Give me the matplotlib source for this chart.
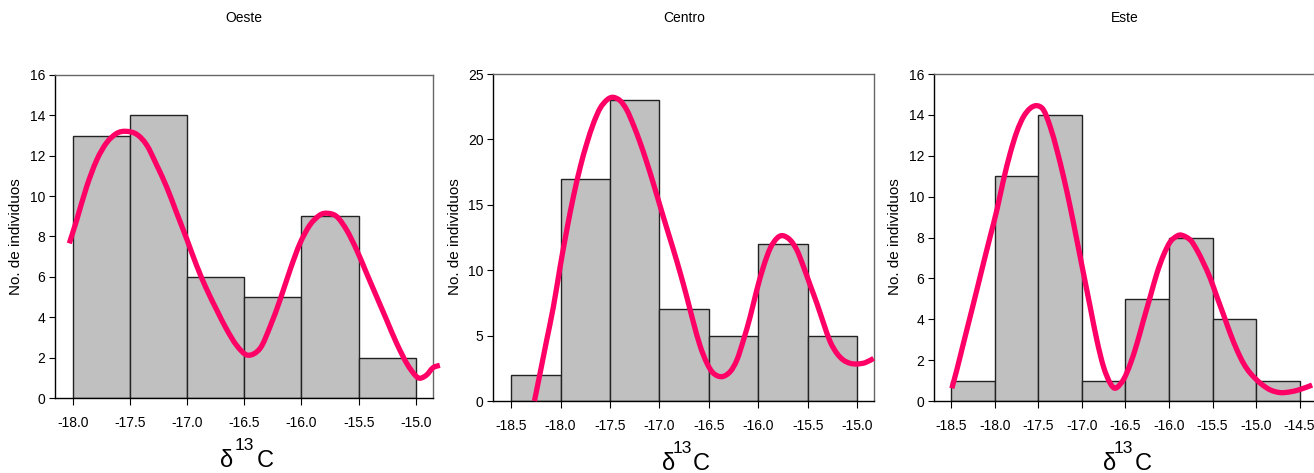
import matplotlib
matplotlib.use("Agg")
import matplotlib.pyplot as plt
from matplotlib.path import Path
from matplotlib.patches import PathPatch

plt.rcParams['font.family'] = ['Liberation Sans', 'DejaVu Sans']
plt.rcParams['axes.unicode_minus'] = False

# ---------------- data ----------------
titles = ["Oeste", "Centro", "Este"]

oeste_edges = [-18.0, -17.5, -17.0, -16.5, -16.0, -15.5, -15.0]
oeste_counts = [13, 14, 6, 5, 9, 2]
oeste_curve_x = [-18.03, -17.965, -17.878, -17.79, -17.703, -17.615, -17.534, -17.44,
                 -17.353, -17.266, -17.18, -17.09, -17.0, -16.916, -16.83, -16.74,
                 -16.654, -16.566, -16.47, -16.363, -16.275, -16.188, -16.1,
                 -16.013, -15.926, -15.84, -15.77, -15.69, -15.605, -15.517, -15.43,
                 -15.343, -15.255, -15.168, -15.08, -15.008, -14.964, -14.906, -14.85,
                 -14.79]
oeste_curve_y = [7.66, 8.82, 10.47, 11.79, 12.65, 13.11, 13.21, 13.06,
                 12.53, 11.54, 10.47, 9.15, 7.83, 6.55, 5.4, 4.35,
                 3.4, 2.6, 2.12, 2.45, 3.53, 4.85, 6.34,
                 7.66, 8.57, 9.06, 9.15, 8.98, 8.32, 7.33, 6.17,
                 5.02, 3.86, 2.71, 1.72, 1.14, 0.98, 1.14, 1.50,
                 1.62]
oeste_xticks = ["-18.0", "-17.5", "-17.0", "-16.5", "-16.0", "-15.5", "-15.0"]
oeste_yticks = [0, 2, 4, 6, 8, 10, 12, 14, 16]

centro_edges = [-18.5, -18.0, -17.5, -17.0, -16.5, -16.0, -15.5, -15.0]
centro_counts = [2, 17, 23, 7, 5, 12, 5]
centro_curve_x = [-18.264, -18.207, -18.14, -18.072, -18.004, -17.937, -17.87, -17.8,
                  -17.734, -17.667, -17.6, -17.532, -17.471, -17.397, -17.33, -17.263,
                  -17.195, -17.128, -17.06, -16.993, -16.925, -16.858, -16.79, -16.723,
                  -16.656, -16.588, -16.52, -16.454, -16.369, -16.285, -16.217, -16.15,
                  -16.082, -16.015, -15.948, -15.88, -15.812, -15.752, -15.678, -15.61,
                  -15.543, -15.476, -15.408, -15.34, -15.273, -15.206, -15.14, -15.07,
                  -15.003, -14.919, -14.834]
centro_curve_y = [0.0, 2.12, 4.66, 7.21, 10.27, 13.07, 15.62, 17.91,
                  19.7, 21.23, 22.38, 23.01, 23.22, 22.96, 22.25, 21.1,
                  19.75, 18.25, 16.6, 14.9, 13.2, 11.55, 9.8, 7.95,
                  6.0, 4.2, 2.9, 2.12, 1.86, 2.24, 3.13, 4.66,
                  6.45, 8.49, 10.27, 11.67, 12.44, 12.64, 12.31, 11.54,
                  10.27, 8.87, 7.47, 5.94, 4.53, 3.65, 3.13, 2.88,
                  2.83, 2.93, 3.26]
centro_xticks = ["-18.5", "-18.0", "-17.5", "-17.0", "-16.5", "-16.0", "-15.5", "-15.0"]
centro_yticks = [0, 5, 10, 15, 20, 25]

este_edges = [-18.5, -18.0, -17.5, -17.0, -16.5, -16.0, -15.5, -15.0, -14.5]
este_counts = [1, 11, 14, 1, 5, 8, 4, 1]
este_curve_x = [-18.495, -18.438, -18.362, -18.285, -18.208, -18.132, -18.055, -17.978,
                -17.902, -17.825, -17.748, -17.672, -17.595, -17.518, -17.442, -17.365,
                -17.288, -17.212, -17.136, -17.059, -16.983, -16.906, -16.829, -16.753,
                -16.676, -16.612, -16.523, -16.446, -16.369, -16.293, -16.216, -16.139,
                -16.063, -15.986, -15.909, -15.852, -15.756, -15.68, -15.603, -15.526,
                -15.45, -15.373, -15.297, -15.22, -15.144, -15.066, -14.951, -14.836,
                -14.721, -14.606, -14.49, -14.356]
este_curve_y = [0.62, 1.52, 2.82, 4.12, 5.43, 6.74, 8.04, 9.34,
                10.81, 12.12, 13.18, 13.91, 14.32, 14.45, 14.24, 13.42,
                12.28, 10.97, 9.51, 7.88, 6.25, 4.61, 2.98, 1.68,
                0.87, 0.63, 1.05, 1.8, 2.8, 3.96, 5.1, 6.25,
                7.14, 7.79, 8.07, 8.11, 7.88, 7.39, 6.74, 6.0,
                5.1, 4.21, 3.31, 2.5, 1.84, 1.36, 0.87, 0.54,
                0.41, 0.45, 0.57, 0.78]
este_xticks = ["-18.5", "-18.0", "-17.5", "-17.0", "-16.5", "-16.0", "-15.5", "-15.0", "-14.5"]
este_yticks = [0, 2, 4, 6, 8, 10, 12, 14, 16]

ylabel_text = "No. de individuos"

# ---------------- layout ----------------
W, H = 1314, 473
fig = plt.figure(figsize=(W / 100, H / 100), dpi=100)


def px_axes(l, t, r, b):
    return fig.add_axes([l / W, 1 - b / H, (r - l) / W, (b - t) / H])


def ftext(x, y, s, **kw):
    fig.text(x / W, 1 - y / H, s, **kw)


def smooth_line(ax, xs, ys, **kw):
    """Draw the read points as a smoothed line (Catmull-Rom drawn as Bezier segments),
    like a spreadsheet 'smoothed line' series."""
    pts = list(zip(xs, ys))
    n = len(pts)
    verts = [pts[0]]
    codes = [Path.MOVETO]
    for i in range(n - 1):
        p0 = pts[max(i - 1, 0)]
        p1 = pts[i]
        p2 = pts[i + 1]
        p3 = pts[min(i + 2, n - 1)]
        c1 = (p1[0] + (p2[0] - p0[0]) / 6.0, p1[1] + (p2[1] - p0[1]) / 6.0)
        c2 = (p2[0] - (p3[0] - p1[0]) / 6.0, p2[1] - (p3[1] - p1[1]) / 6.0)
        verts += [c1, c2, p2]
        codes += [Path.CURVE4] * 3
    patch = PathPatch(Path(verts, codes), fill=False, clip_on=False,
                      capstyle='butt', joinstyle='round', **kw)
    ax.add_patch(patch)


panels = [
    dict(box=(55, 75, 433, 398), xlim=(-18.155, -14.85), ylim=(0, 16),
         edges=oeste_edges, counts=oeste_counts, cx=oeste_curve_x, cy=oeste_curve_y,
         xt=oeste_xticks, yt=oeste_yticks, title_x=244, ylab_x=16,
         xl=[(220, "δ", 17), (235, "13", 12.5), (257, "C", 17)], xl_base=467),
    dict(box=(493.3, 74, 874, 401), xlim=(-18.68, -14.83), ylim=(0, 25),
         edges=centro_edges, counts=centro_counts, cx=centro_curve_x, cy=centro_curve_y,
         xt=centro_xticks, yt=centro_yticks, title_x=684, ylab_x=455,
         xl=[(662, "δ", 17), (673, "13", 12.5), (693, "C", 17)], xl_base=470),
    dict(box=(934, 74, 1317, 401), xlim=(-18.70, -14.30), ylim=(0, 16),
         edges=este_edges, counts=este_counts, cx=este_curve_x, cy=este_curve_y,
         xt=este_xticks, yt=este_yticks, title_x=1125, ylab_x=895,
         xl=[(1103, "δ", 17), (1114, "13", 12.5), (1135, "C", 17)], xl_base=470),
]

for p, title in zip(panels, titles):
    ax = px_axes(*p["box"])
    lefts = p["edges"][:-1]
    ax.bar(lefts, p["counts"], width=0.5, align='edge', color='#C0C0C0',
           edgecolor='#222222', linewidth=1.0, zorder=2)
    smooth_line(ax, p["cx"], p["cy"], edgecolor='#FF0066', lw=3.8, zorder=3)
    ax.set_xlim(*p["xlim"])
    ax.set_ylim(*p["ylim"])
    ax.set_xticks(p["edges"])
    ax.set_xticklabels(p["xt"])
    ax.set_yticks(p["yt"])
    ax.tick_params(axis='x', direction='out', length=5, width=0.8, pad=8,
                   labelsize=10, colors='#000000')
    ax.tick_params(axis='y', direction='out', length=4, width=0.8, pad=3,
                   labelsize=10, colors='#000000')
    for s in ['left', 'bottom']:
        ax.spines[s].set_color('#000000')
        ax.spines[s].set_linewidth(1.0)
    for s in ['top', 'right']:
        ax.spines[s].set_color('#666666')
        ax.spines[s].set_linewidth(1.0)

    ftext(p["title_x"], 18, title, ha='center', va='center', fontsize=10)
    ftext(p["ylab_x"], 237, ylabel_text, ha='center', va='center', rotation=90,
          fontsize=11)
    for (x, s, fs) in p["xl"]:
        base = p["xl_base"] - (17 if s == "13" else 0)
        ftext(x, base, s, ha='left', va='baseline', fontsize=fs)

fig.savefig("out.png", dpi=100, facecolor='white')
